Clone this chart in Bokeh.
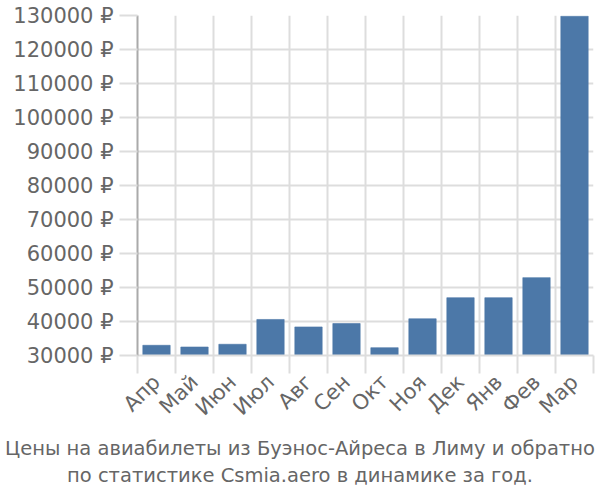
import math
from bokeh.plotting import figure
from bokeh.layouts import column
from bokeh.models import Range1d, FixedTicker, ColumnDataSource, Div
from bokeh.embed import file_html
from bokeh.resources import INLINE

months = ["Апр", "Май", "Июн", "Июл", "Авг", "Сен", "Окт", "Ноя", "Дек", "Янв", "Фев", "Мар"]
prices = [33000, 32500, 33300, 40600, 38400, 39400, 32300, 40800, 47000, 47000, 52900, 129800]
y_ticks = [30000, 40000, 50000, 60000, 70000, 80000, 90000, 100000, 110000, 120000, 130000]
title_lines = ["Цены на авиабилеты из Буэнос-Айреса в Лиму и обратно",
               "по статистике Csmia.aero в динамике за год."]

n = len(months)
centers = [i + 0.5 for i in range(n)]
bounds = list(range(n + 1))
base = y_ticks[0]

FONT = "DejaVu Sans"
TXT = "#666666"
GRID = "#dddddd"

W = 600
p = figure(frame_width=456, frame_height=340, output_backend="svg", toolbar_location=None,
           x_range=Range1d(0, n), y_range=Range1d(y_ticks[0], y_ticks[-1]),
           min_border_left=137, min_border_top=15, min_border_right=7, min_border_bottom=70)
p.outline_line_color = None
p.background_fill_color = "white"
p.border_fill_color = "white"

src = ColumnDataSource(dict(x=centers, top=prices, bottom=[base] * n))
p.vbar(x="x", top="top", bottom="bottom", width=0.72, source=src,
       fill_color="#4c78a8", line_color="#4c78a8", line_alpha=0.6)

# y axis
p.yaxis.ticker = FixedTicker(ticks=y_ticks)
p.yaxis.major_label_overrides = {t: f"{t} ₽" for t in y_ticks}
p.yaxis.major_label_text_font = FONT
p.yaxis.major_label_text_font_size = "21px"
p.yaxis.major_label_text_color = TXT
p.yaxis.major_tick_out = 18
p.yaxis.major_tick_in = 0
p.yaxis.major_tick_line_color = GRID
p.yaxis.major_tick_line_width = 2
p.yaxis.minor_tick_line_color = None
p.yaxis.axis_line_color = "#aaaaaa"
p.yaxis.axis_line_width = 2
p.yaxis.major_label_standoff = 6

# x axis
p.xaxis.ticker = FixedTicker(ticks=centers, minor_ticks=bounds)
p.xaxis.major_label_overrides = {c: m for c, m in zip(centers, months)}
p.xaxis.major_label_orientation = math.pi / 4
p.xaxis.major_label_text_font = FONT
p.xaxis.major_label_text_font_size = "21px"
p.xaxis.major_label_text_color = TXT
p.xaxis.major_tick_line_color = None
p.xaxis.minor_tick_out = 18
p.xaxis.minor_tick_in = 0
p.xaxis.minor_tick_line_color = GRID
p.xaxis.minor_tick_line_width = 2
p.xaxis.axis_line_color = GRID
p.xaxis.axis_line_width = 2
p.xaxis.major_label_standoff = 5

p.xgrid.ticker = FixedTicker(ticks=bounds)
p.xgrid.grid_line_color = GRID
p.xgrid.grid_line_width = 2
p.ygrid.grid_line_color = GRID
p.ygrid.grid_line_width = 2

caption = Div(text="<br>".join(title_lines), width=W, height=75, margin=(0, 0, 0, 0),
              styles={"text-align": "center", "font-family": FONT, "font-size": "19.5px",
                      "color": TXT, "line-height": "27px", "padding-top": "4px",
                      "width": f"{W}px", "white-space": "nowrap", "box-sizing": "border-box"})

layout = column(p, caption, spacing=0)
open("out.html", "w").write(file_html(layout, INLINE))
